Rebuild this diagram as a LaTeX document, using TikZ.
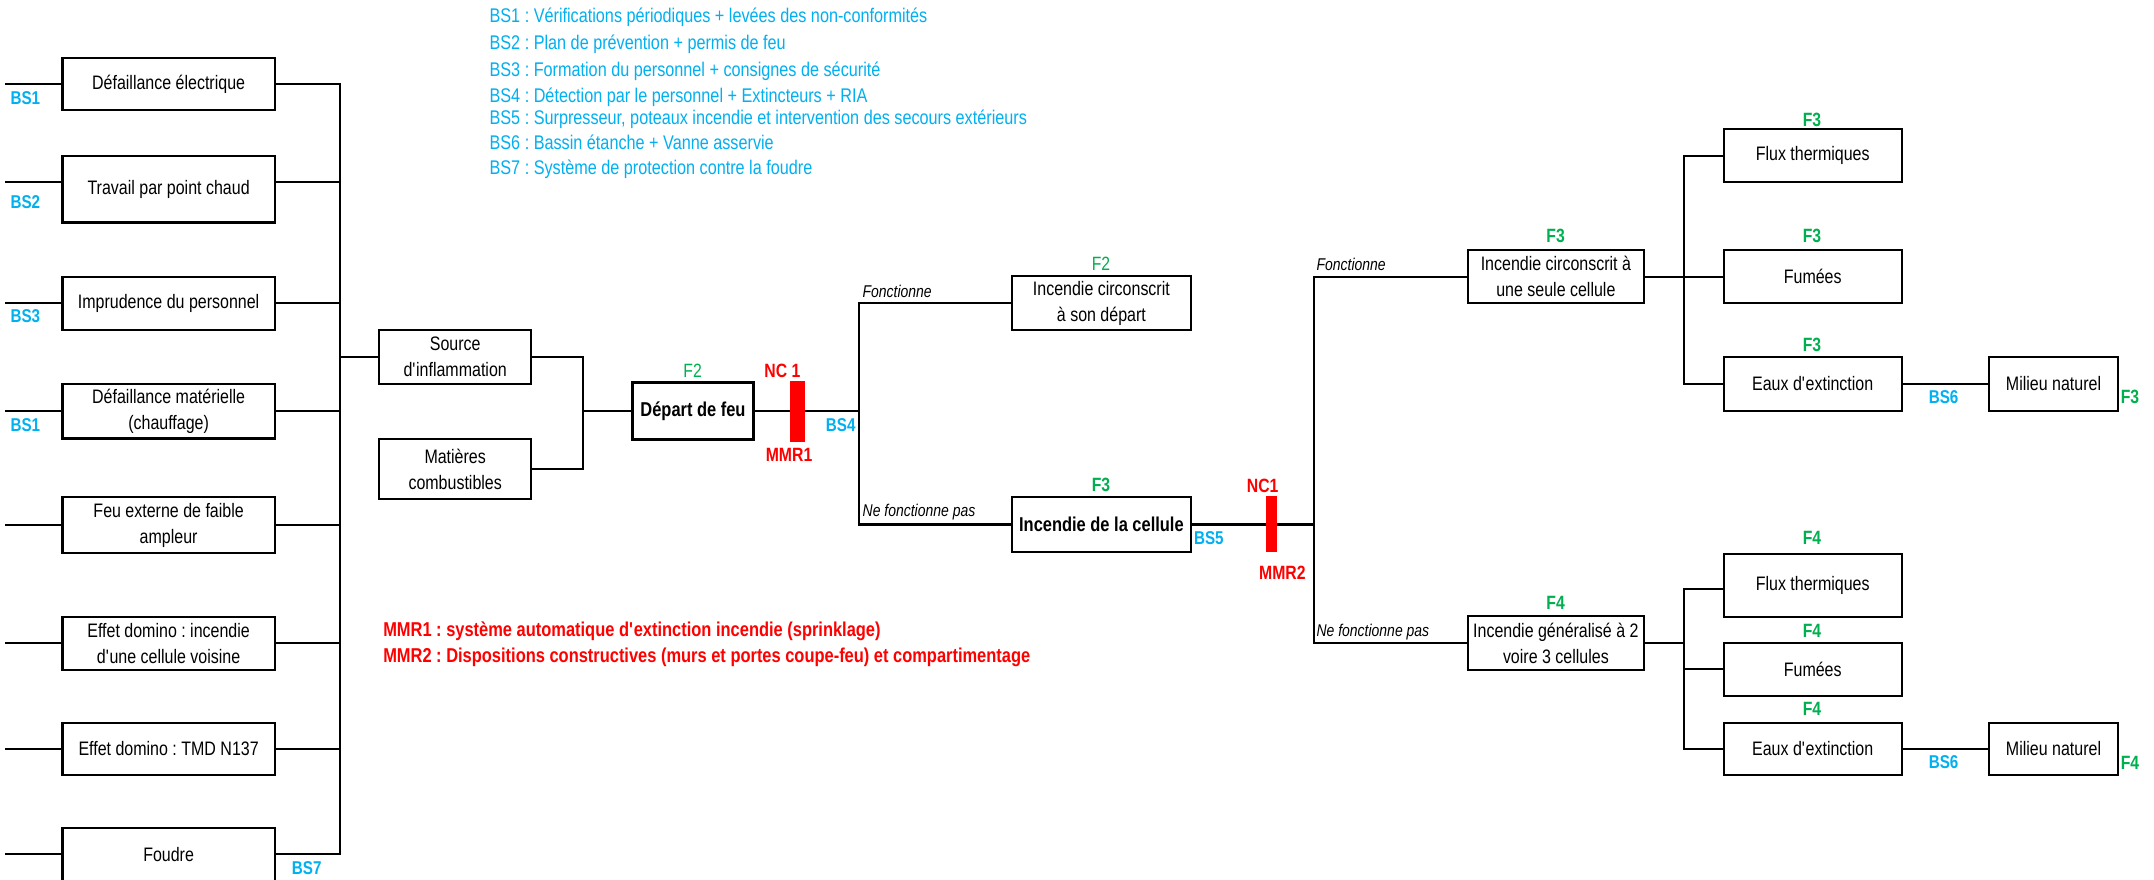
\documentclass[tikz,border=0pt]{standalone}
\usepackage{fontspec}
\setmainfont{Liberation Sans}[FakeStretch=0.82]
\frenchspacing
\newcommand\ap{\textquotesingle}
\definecolor{bsblue}{HTML}{00B0F0}
\definecolor{fgreen}{HTML}{00B050}
\definecolor{rred}{HTML}{FF0000}
\tikzset{
  box/.style={draw, line width=1.5pt, inner sep=1pt, align=center, font={\fontsize{14.2}{19}\selectfont}},
  bbox/.style={box, font={\bfseries\fontsize{14.6}{19}\selectfont}},
  wire/.style={line width=1.5pt},
  bslbl/.style={text=bsblue, inner sep=0pt, font={\bfseries\fontsize{13.5}{16}\selectfont}},
  fbold/.style={text=fgreen, inner sep=0pt, font={\bfseries\fontsize{14}{16}\selectfont}},
  fnorm/.style={text=fgreen, inner sep=0pt, font={\fontsize{14}{16}\selectfont}},
  rlbl/.style={text=rred, inner sep=0pt, font={\bfseries\fontsize{14}{16}\selectfont}},
  redbar/.style={fill=rred, draw=none, inner sep=0pt},
  ital/.style={anchor=west, inner sep=0pt, font={\itshape\fontsize{12.4}{14}\selectfont}},
  legb/.style={anchor=west, inner sep=0pt, text=bsblue, font={\fontsize{14.4}{16}\selectfont}},
  legr/.style={anchor=west, inner sep=0pt, text=rred, font={\bfseries\fontsize{14.6}{16}\selectfont}}
}
\begin{document}
\begin{tikzpicture}[x=1pt,y=-1pt]
\fill[white] (0,0) rectangle (1568,640);
\clip (0,0) rectangle (1568,640);

% ---------- legends ----------
\node[legb] (l1) at (356.2,12.6) {BS1 : Vérifications périodiques + levées des non-conformités};
\node[legb] (l2) at (356.2,32.3) {BS2 : Plan de prévention + permis de feu};
\node[legb] (l3) at (356.2,52.2) {BS3 : Formation du personnel + consignes de sécurité};
\node[legb] (l4) at (356.2,71.1) {BS4 : Détection par le personnel + Extincteurs + RIA};
\node[legb] (l5) at (356.2,86.9) {BS5 : Surpresseur, poteaux incendie et intervention des secours extérieurs};
\node[legb] (l6) at (356.2,103.9) {BS6 : Bassin étanche + Vanne asservie};
\node[legb] (l7) at (356.2,123.3) {BS7 : Système de protection contre la foudre};
\node[legr] (m1) at (278.8,459.4) {MMR1 : système automatique d\ap extinction incendie (sprinklage)};
\node[legr] (m2) at (278.8,478.8) {MMR2 : Dispositions constructives (murs et portes coupe-feu) et compartimentage};

% ---------- left column ----------
\node[box, minimum width=154.5pt, minimum height=38pt]   (de)  at (122.75,61.2)  {Défaillance électrique};
\node[box, minimum width=154.5pt, minimum height=48.7pt] (tp)  at (122.75,137.6) {Travail par point chaud};
\node[box, minimum width=154.5pt, minimum height=38.8pt] (ip)  at (122.75,220.7) {Imprudence du personnel};
\node[box, minimum width=154.5pt, minimum height=39.8pt] (dm)  at (122.75,299.3) {Défaillance matérielle\\(chauffage)};
\node[box, minimum width=154.5pt, minimum height=41pt]   (fe)  at (122.75,382.3) {Feu externe de faible\\ampleur};
\node[box, minimum width=154.5pt, minimum height=38.5pt] (ed)  at (122.75,468.2) {Effet domino : incendie\\d\ap une cellule voisine};
\node[box, minimum width=154.5pt, minimum height=38.2pt] (tmd) at (122.75,545.2) {Effet domino : TMD N137};
\node[box, minimum width=154.5pt, minimum height=39pt]   (fo)  at (122.75,621.9) {Foudre};

\coordinate (s1) at (4,61.2);
\coordinate (s2) at (4,132.5);
\coordinate (s3) at (4,220.7);
\coordinate (s4) at (4,299.3);
\coordinate (s5) at (4,382.3);
\coordinate (s6) at (4,468.2);
\coordinate (s7) at (4,545.2);
\coordinate (s8) at (4,621.9);
\coordinate (tpw) at ([yshift=5.1pt]tp.west);
\coordinate (tpe) at ([yshift=5.1pt]tp.east);
\coordinate (bus) at (247.6,61.2);

\draw[wire] (s1) -- (de.west);
\draw[wire] (s2) -- (tpw);
\draw[wire] (s3) -- (ip.west);
\draw[wire] (s4) -- (dm.west);
\draw[wire] (s5) -- (fe.west);
\draw[wire] (s6) -- (ed.west);
\draw[wire] (s7) -- (tmd.west);
\draw[wire] (s8) -- (fo.west);

\draw[wire] (de.east) -- (de.east -| bus) -- (fo.east -| bus) -- (fo.east);
\draw[wire] (tpe) -- (tpe -| bus);
\draw[wire] (ip.east) -- (ip.east -| bus);
\draw[wire] (dm.east) -- (dm.east -| bus);
\draw[wire] (fe.east) -- (fe.east -| bus);
\draw[wire] (ed.east) -- (ed.east -| bus);
\draw[wire] (tmd.east) -- (tmd.east -| bus);

\node[bslbl] (b1) at (18.5,71.1) {BS1};
\node[bslbl] (b2) at (18.5,147) {BS2};
\node[bslbl] (b3) at (18.5,230) {BS3};
\node[bslbl] (b1b) at (18.5,309.4) {BS1};
\node[bslbl] (b7) at (223.3,632) {BS7};

% ---------- middle ----------
\node[box, minimum width=110.7pt, minimum height=39.3pt] (src) at (331.35,259.85) {Source\\d\ap inflammation};
\node[box, minimum width=110.7pt, minimum height=43.8pt] (mat) at (331.35,341.5) {Matières\\combustibles};
\draw[wire] (src.west -| bus) -- (src.west);
\coordinate (v1) at (424.7,0);
\node[box, line width=2.3pt, font={\bfseries\fontsize{14.6}{19}\selectfont}, minimum width=87.9pt, minimum height=41.2pt] (dep) at (504.45,299.2) {Départ de feu};
\draw[wire] (src.east) -- (src.east -| v1) -- (mat.east -| v1) -- (mat.east);
\draw[wire] (dep.west -| v1) -- (dep.west);
\node[fnorm] (f2a) at (504.2,269.6) {F2};

\coordinate (v2) at (625.3,0);
\draw[wire] (dep.east) -- (dep.east -| v2);
\node[redbar, minimum width=11pt, minimum height=44.1pt] (bar1) at (580.5,299.45) {};
\node[rlbl] (nc1) at (569.5,269.8) {NC 1};
\node[rlbl] (mmr1) at (574.4,331.2) {MMR1};
\node[bslbl] (b4) at (612,309.6) {BS4};

\node[box, minimum width=130.5pt, minimum height=38.8pt] (icd) at (801.75,220.6) {Incendie circonscrit\\à son départ};
\node[bbox, minimum width=130.5pt, minimum height=40.5pt] (idc) at (801.75,381.8) {Incendie de la cellule};
\node[fnorm] (f2b) at (801.5,191.7) {F2};
\node[fbold] (f3a) at (801.5,353) {F3};
\draw[wire] (icd.west) -- (icd.west -| v2) -- (idc.west -| v2) -- (idc.west);
\node[ital] (fo1) at (627.7,211.8) {Fonctionne};
\node[ital] (nf1) at (627.8,373) {Ne fonctionne pas};

\coordinate (v3) at (956.2,0);
\draw[wire] (idc.east) -- (idc.east -| v3);
\node[redbar, minimum width=8.5pt, minimum height=41pt] (bar2) at (925.55,381.3) {};
\node[rlbl] (nc2) at (919.2,353.5) {NC1};
\node[rlbl] (mmr2) at (933.5,416.6) {MMR2};
\node[bslbl] (b5) at (880,391.9) {BS5};

\node[box, minimum width=128pt, minimum height=38.8pt] (ic1) at (1132.6,201.4) {Incendie circonscrit à\\une seule cellule};
\node[box, minimum width=128pt, minimum height=38.8pt] (ig) at (1132.6,468.1) {Incendie généralisé à 2\\voire 3 cellules};
\node[fbold] (f3b) at (1132.4,171.8) {F3};
\node[fbold] (f4a) at (1132.4,439.2) {F4};
\draw[wire] (ic1.west) -- (ic1.west -| v3) -- (ig.west -| v3) -- (ig.west);
\node[ital] (fo2) at (958.2,192.2) {Fonctionne};
\node[ital] (nf2) at (958.2,459.8) {Ne fonctionne pas};

% ---------- right, upper ----------
\coordinate (ub) at (1225.6,0);
\node[box, minimum width=129.3pt, minimum height=38.8pt] (fl1) at (1319.55,113.3) {Flux thermiques};
\node[box, minimum width=129.3pt, minimum height=38.8pt] (fu1) at (1319.55,201.4) {Fumées};
\node[box, minimum width=129.3pt, minimum height=39.6pt] (ea1) at (1319.55,279.4) {Eaux d\ap extinction};
\node[box, minimum width=93.7pt, minimum height=39.6pt] (mi1) at (1494.85,279.4) {Milieu naturel};
\draw[wire] (fl1.west) -- (fl1.west -| ub) -- (ea1.west -| ub) -- (ea1.west);
\draw[wire] (ic1.east) -- (fu1.west);
\draw[wire] (ea1.east) -- (mi1.west);
\node[fbold] (f3c) at (1319,87.4) {F3};
\node[fbold] (f3d) at (1319,171.8) {F3};
\node[fbold] (f3e) at (1319,250.7) {F3};
\node[fbold] (f3f) at (1550.5,288.8) {F3};
\node[bslbl] (b6a) at (1414.8,289.2) {BS6};

% ---------- right, lower ----------
\node[box, minimum width=129.3pt, minimum height=45.6pt] (fl2) at (1319.55,426.1) {Flux thermiques};
\node[box, minimum width=129.3pt, minimum height=38.9pt] (fu2) at (1319.55,487.25) {Fumées};
\node[box, minimum width=129.3pt, minimum height=38pt] (ea2) at (1319.55,545) {Eaux d\ap extinction};
\node[box, minimum width=93.7pt, minimum height=38pt] (mi2) at (1494.85,545) {Milieu naturel};
\coordinate (fl2w) at ([yshift=-2.9pt]fl2.west);
\draw[wire] (fl2w) -- (fl2w -| ub) -- (ea2.west -| ub) -- (ea2.west);
\draw[wire] (ig.east) -- (ig.east -| ub);
\draw[wire] (fu2.west) -- (fu2.west -| ub);
\draw[wire] (ea2.east) -- (mi2.west);
\node[fbold] (f4b) at (1319,391.9) {F4};
\node[fbold] (f4c) at (1319,459.1) {F4};
\node[fbold] (f4d) at (1319,516.1) {F4};
\node[fbold] (f4e) at (1550.5,555) {F4};
\node[bslbl] (b6b) at (1414.8,555) {BS6};
\end{tikzpicture}
\end{document}
